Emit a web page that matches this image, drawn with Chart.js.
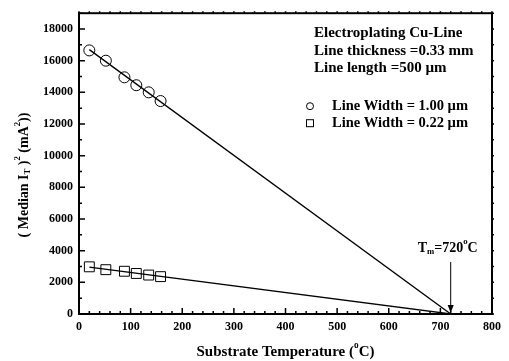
<!DOCTYPE html>
<html>
<head>
    <title>Median current squared vs substrate temperature</title>
    <script src="https://cdn.jsdelivr.net/npm/chart.js"></script>
    <style>
        body { margin: 0; background: #fff; }
        #wrap { width: 509px; height: 361px; }
    </style>
</head>
<body>
    <div id="wrap"><canvas id="tempChart" width="509" height="361"></canvas></div>
<script>
// measured points (substrate temperature in C)
const temps = [20, 52, 88, 111, 135, 158];
const wide = [16650, 16000, 14950, 14450, 14000, 13450];    // line width 1.00 um
const narrow = [2980, 2800, 2700, 2560, 2460, 2360];        // line width 0.22 um

// fitted lines, both run down to the melting point
const fitX = [20, 720];
const wideFit = [16700, 0];
const narrowFit = [2960, 0];
const meltTemp = 720;

const xTickLabels = [0, 100, 200, 300, 400, 500, 600, 700, 800];
const yTickLabels = [0, 2000, 4000, 6000, 8000, 10000, 12000, 14000, 16000, 18000];

const serif = '"Liberation Serif", "Times New Roman", serif';

function pts(xs, ys) {
    return xs.map((x, i) => ({ x: x, y: ys[i] }));
}

// draw a run of text pieces, some raised or lowered
function richText(ctx, parts, x, y, size) {
    let total = 0;
    parts.forEach(p => {
        ctx.font = 'bold ' + (p.s ? size * 0.62 : size) + 'px ' + serif;
        p.w = ctx.measureText(p.t).width;
        total += p.w;
    });
    let cx = x - total / 2;
    parts.forEach(p => {
        ctx.font = 'bold ' + (p.s ? size * 0.62 : size) + 'px ' + serif;
        let dy = 0;
        if (p.s === 'up') dy = -size * 0.42;
        if (p.s === 'down') dy = size * 0.28;
        ctx.fillText(p.t, cx, y + dy);
        cx += p.w;
    });
}

const framePlugin = {
    id: 'frame',
    afterDraw(chart) {
        const ctx = chart.ctx;
        const a = chart.chartArea;
        const x = chart.scales.x, y = chart.scales.y;
        ctx.save();
        ctx.strokeStyle = '#000';
        ctx.fillStyle = '#000';

        // tick marks
        ctx.lineWidth = 1.5;
        ctx.beginPath();
        for (let v = 0; v <= 800; v += 20) {
            const px = x.getPixelForValue(v);
            const len = v % 100 === 0 ? 6 : 3;
            ctx.moveTo(px, a.bottom); ctx.lineTo(px, a.bottom - len);
            ctx.moveTo(px, a.top); ctx.lineTo(px, a.top - 2);
        }
        for (let v = 0; v <= 19000; v += 1000) {
            const py = y.getPixelForValue(v);
            const len = v % 2000 === 0 ? 6 : 3;
            ctx.moveTo(a.left, py); ctx.lineTo(a.left + len, py);
            ctx.moveTo(a.right, py); ctx.lineTo(a.right + 2, py);
        }
        ctx.stroke();

        ctx.lineWidth = 2;
        ctx.strokeRect(a.left, a.top, a.width, a.height);

        // melting point arrow
        const ax = x.getPixelForValue(meltTemp);
        const ay = a.bottom - 1;
        ctx.lineWidth = 1;
        ctx.beginPath();
        ctx.moveTo(ax, ay - 51); ctx.lineTo(ax, ay - 5);
        ctx.stroke();
        ctx.beginPath();
        ctx.moveTo(ax, ay); ctx.lineTo(ax - 3, ay - 8); ctx.lineTo(ax + 3, ay - 8);
        ctx.closePath(); ctx.fill();

        ctx.textBaseline = 'middle';
        ctx.textAlign = 'left';
        richText(ctx, [{ t: 'T' }, { t: 'm', s: 'down' }, { t: '=720' }, { t: 'o', s: 'up' }, { t: 'C' }],
            ax - 3, ay - 65, 14);

        // notes
        ctx.font = 'bold 15px ' + serif;
        const nx = 314;
        ctx.fillText('Electroplating Cu-Line', nx, a.top + 20);
        ctx.fillText('Line thickness =0.33 mm', nx, a.top + 38);
        ctx.fillText('Line length =500 \u00b5m', nx, a.top + 55);

        // legend
        ctx.lineWidth = 1;
        ctx.fillStyle = '#fff';
        ctx.beginPath(); ctx.arc(310, a.top + 93, 3.5, 0, Math.PI * 2); ctx.fill(); ctx.stroke();
        ctx.fillRect(306.5, a.top + 106.5, 7, 7); ctx.strokeRect(306.5, a.top + 106.5, 7, 7);
        ctx.fillStyle = '#000';
        ctx.font = 'bold 14.5px ' + serif;
        ctx.fillText('Line Width = 1.00 \u00b5m', 332, a.top + 93);
        ctx.fillText('Line Width = 0.22 \u00b5m', 332, a.top + 110);

        // axis titles
        richText(ctx, [{ t: 'Substrate Temperature (' }, { t: 'o', s: 'up' }, { t: 'C)' }],
            (a.left + a.right) / 2, 352, 15);
        ctx.translate(24, 175);
        ctx.rotate(-Math.PI / 2);
        richText(ctx, [{ t: '( Median I' }, { t: 'T', s: 'down' }, { t: ' )' }, { t: '2', s: 'up' },
            { t: ' (mA' }, { t: '2', s: 'up' }, { t: '))' }], 0, 0, 14);
        ctx.restore();
    }
};

const markerStyle = {
    borderColor: '#000',
    backgroundColor: '#fff',
    borderWidth: 1,
    showLine: false
};

new Chart(document.getElementById('tempChart'), {
    type: 'scatter',
    data: {
        datasets: [
            { data: pts(fitX, wideFit), showLine: true, borderColor: '#000', borderWidth: 1.3, pointRadius: 0 },
            { data: pts(fitX, narrowFit), showLine: true, borderColor: '#000', borderWidth: 1.3, pointRadius: 0 },
            Object.assign({ data: pts(temps, wide), pointStyle: 'circle', pointRadius: 5.5 }, markerStyle),
            Object.assign({ data: pts(temps, narrow), pointStyle: 'rect', pointRadius: 7 }, markerStyle)
        ]
    },
    options: {
        responsive: false,
        animation: false,
        layout: { padding: { left: 5, right: 17, top: 11, bottom: 0 } },
        plugins: { legend: { display: false }, tooltip: { enabled: false } },
        scales: {
            x: {
                type: 'linear', min: 0, max: 800,
                grid: { display: false, drawTicks: false }, border: { display: false },
                afterFit(s) { s.height = 47; },
                afterBuildTicks(s) { s.ticks = xTickLabels.map(v => ({ value: v })); },
                ticks: { color: '#000', padding: 6, font: { family: serif, size: 12, weight: 'bold' } }
            },
            y: {
                type: 'linear', min: 0, max: 19000,
                grid: { display: false, drawTicks: false }, border: { display: false },
                afterFit(s) { s.width = 74; },
                afterBuildTicks(s) { s.ticks = yTickLabels.map(v => ({ value: v })); },
                ticks: { color: '#000', padding: 6, font: { family: serif, size: 12, weight: 'bold' },
                    callback: v => String(v) }
            }
        }
    },
    plugins: [framePlugin]
});
</script>
</body>
</html>
